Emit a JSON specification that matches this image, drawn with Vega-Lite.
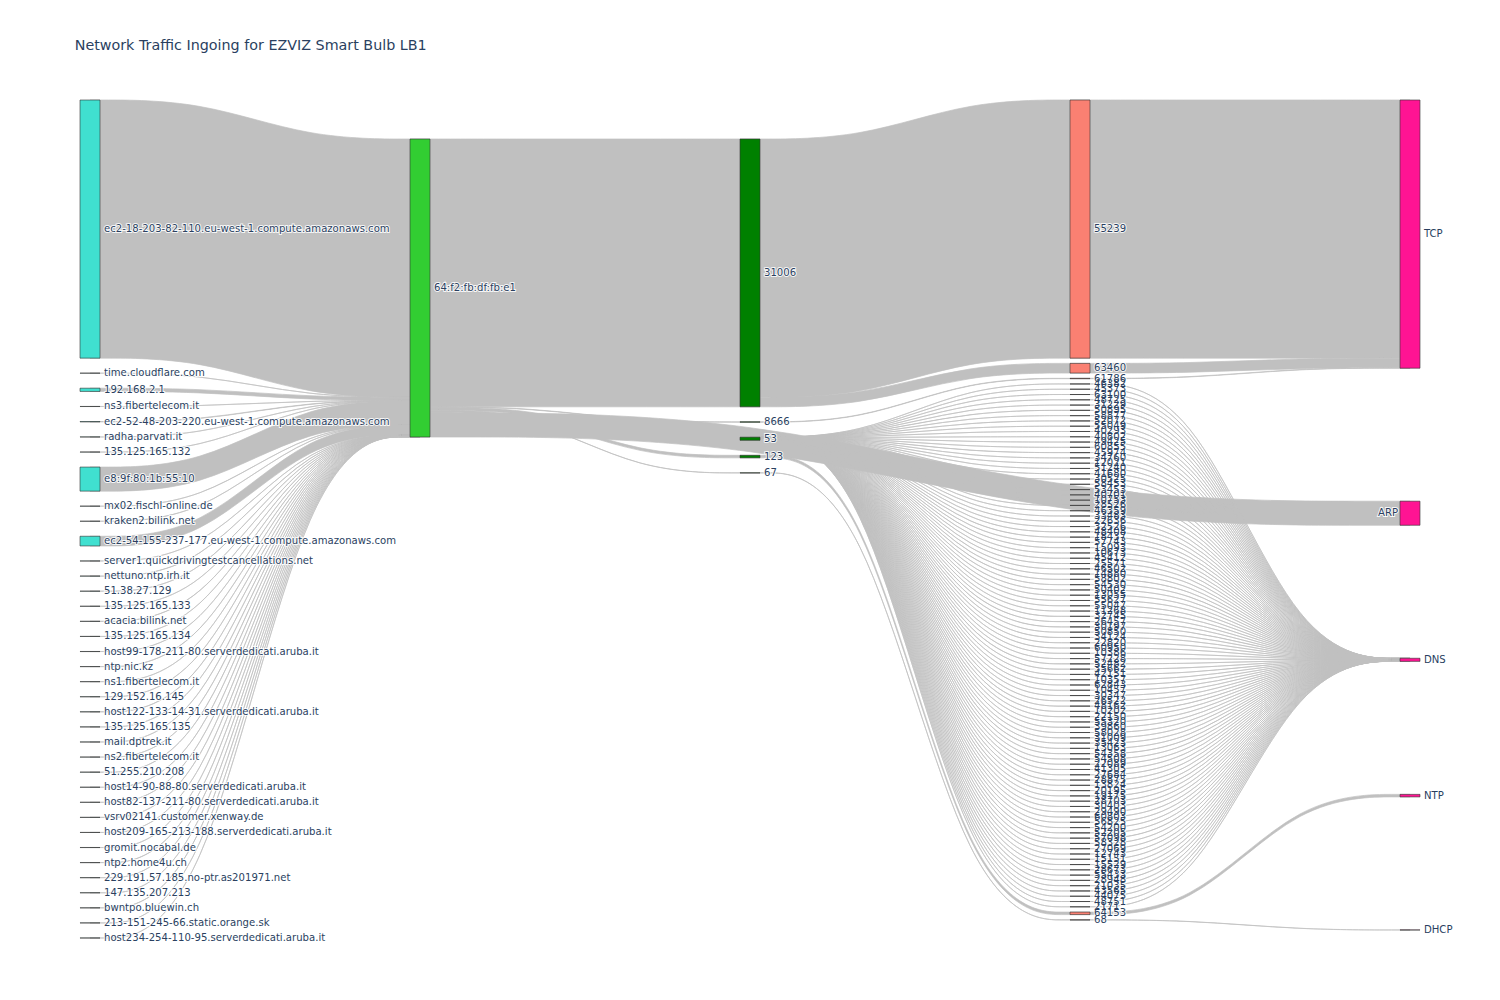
{
  "$schema": "https://vega.github.io/schema/vega-lite/v6.json",
  "width": 1320,
  "height": 840,
  "autosize": {"type": "none"},
  "padding": {"left": 90, "right": 90, "top": 100, "bottom": 60},
  "background": "white",
  "title": {"text": "Network Traffic Ingoing for EZVIZ Smart Bulb LB1", "anchor": "start", "dx": -5, "offset": 34, "baseline": "alphabetic", "font": "DejaVu Sans", "fontSize": 14.3, "fontWeight": "normal", "color": "#2a3f5f"},
  "config": {"view": {"stroke": null}},
  "datasets": {
    "nodes": [
      {"node": "ec2-18-203-82-110.eu-west-1.compute.amazonaws.com", "stage": 0, "order": 0, "packets": 8260},
      {"node": "time.cloudflare.com", "stage": 0, "order": 1, "packets": 2},
      {"node": "192.168.2.1", "stage": 0, "order": 2, "packets": 104},
      {"node": "ns3.fibertelecom.it", "stage": 0, "order": 3, "packets": 3},
      {"node": "ec2-52-48-203-220.eu-west-1.compute.amazonaws.com", "stage": 0, "order": 4, "packets": 12},
      {"node": "radha.parvati.it", "stage": 0, "order": 5, "packets": 3},
      {"node": "135.125.165.132", "stage": 0, "order": 6, "packets": 2},
      {"node": "e8:9f:80:1b:55:10", "stage": 0, "order": 7, "packets": 770},
      {"node": "mx02.fischl-online.de", "stage": 0, "order": 8, "packets": 2},
      {"node": "kraken2.bilink.net", "stage": 0, "order": 9, "packets": 2},
      {"node": "ec2-54-155-237-177.eu-west-1.compute.amazonaws.com", "stage": 0, "order": 10, "packets": 310},
      {"node": "server1.quickdrivingtestcancellations.net", "stage": 0, "order": 11, "packets": 3},
      {"node": "nettuno.ntp.irh.it", "stage": 0, "order": 12, "packets": 3},
      {"node": "51.38.27.129", "stage": 0, "order": 13, "packets": 3},
      {"node": "135.125.165.133", "stage": 0, "order": 14, "packets": 2},
      {"node": "acacia.bilink.net", "stage": 0, "order": 15, "packets": 3},
      {"node": "135.125.165.134", "stage": 0, "order": 16, "packets": 3},
      {"node": "host99-178-211-80.serverdedicati.aruba.it", "stage": 0, "order": 17, "packets": 3},
      {"node": "ntp.nic.kz", "stage": 0, "order": 18, "packets": 2},
      {"node": "ns1.fibertelecom.it", "stage": 0, "order": 19, "packets": 2},
      {"node": "129.152.16.145", "stage": 0, "order": 20, "packets": 3},
      {"node": "host122-133-14-31.serverdedicati.aruba.it", "stage": 0, "order": 21, "packets": 3},
      {"node": "135.125.165.135", "stage": 0, "order": 22, "packets": 2},
      {"node": "mail.dptrek.it", "stage": 0, "order": 23, "packets": 3},
      {"node": "ns2.fibertelecom.it", "stage": 0, "order": 24, "packets": 2},
      {"node": "51.255.210.208", "stage": 0, "order": 25, "packets": 3},
      {"node": "host14-90-88-80.serverdedicati.aruba.it", "stage": 0, "order": 26, "packets": 2},
      {"node": "host82-137-211-80.serverdedicati.aruba.it", "stage": 0, "order": 27, "packets": 2},
      {"node": "vsrv02141.customer.xenway.de", "stage": 0, "order": 28, "packets": 3},
      {"node": "host209-165-213-188.serverdedicati.aruba.it", "stage": 0, "order": 29, "packets": 2},
      {"node": "gromit.nocabal.de", "stage": 0, "order": 30, "packets": 3},
      {"node": "ntp2.home4u.ch", "stage": 0, "order": 31, "packets": 2},
      {"node": "229.191.57.185.no-ptr.as201971.net", "stage": 0, "order": 32, "packets": 3},
      {"node": "147.135.207.213", "stage": 0, "order": 33, "packets": 3},
      {"node": "bwntpo.bluewin.ch", "stage": 0, "order": 34, "packets": 2},
      {"node": "213-151-245-66.static.orange.sk", "stage": 0, "order": 35, "packets": 2},
      {"node": "host234-254-110-95.serverdedicati.aruba.it", "stage": 0, "order": 36, "packets": 3},
      {"node": "64:f2:fb:df:fb:e1", "stage": 1, "order": 0, "packets": 9537},
      {"node": "31006", "stage": 2, "order": 0, "packets": 8570},
      {"node": "8666", "stage": 2, "order": 1, "packets": 12},
      {"node": "53", "stage": 2, "order": 2, "packets": 100},
      {"node": "123", "stage": 2, "order": 3, "packets": 81},
      {"node": "67", "stage": 2, "order": 4, "packets": 4},
      {"node": "55239", "stage": 3, "order": 0, "packets": 8260},
      {"node": "63460", "stage": 3, "order": 1, "packets": 310},
      {"node": "61786", "stage": 3, "order": 2, "packets": 12},
      {"node": "46382", "stage": 3, "order": 3, "packets": 1},
      {"node": "45373", "stage": 3, "order": 4, "packets": 1},
      {"node": "63100", "stage": 3, "order": 5, "packets": 1},
      {"node": "48725", "stage": 3, "order": 6, "packets": 1},
      {"node": "31229", "stage": 3, "order": 7, "packets": 1},
      {"node": "50895", "stage": 3, "order": 8, "packets": 1},
      {"node": "58877", "stage": 3, "order": 9, "packets": 1},
      {"node": "52072", "stage": 3, "order": 10, "packets": 1},
      {"node": "55049", "stage": 3, "order": 11, "packets": 1},
      {"node": "40293", "stage": 3, "order": 12, "packets": 1},
      {"node": "40802", "stage": 3, "order": 13, "packets": 1},
      {"node": "49425", "stage": 3, "order": 14, "packets": 1},
      {"node": "60855", "stage": 3, "order": 15, "packets": 1},
      {"node": "45974", "stage": 3, "order": 16, "packets": 1},
      {"node": "34760", "stage": 3, "order": 17, "packets": 1},
      {"node": "12021", "stage": 3, "order": 18, "packets": 1},
      {"node": "51240", "stage": 3, "order": 19, "packets": 1},
      {"node": "41680", "stage": 3, "order": 20, "packets": 1},
      {"node": "30525", "stage": 3, "order": 21, "packets": 1},
      {"node": "58453", "stage": 3, "order": 22, "packets": 1},
      {"node": "53453", "stage": 3, "order": 23, "packets": 1},
      {"node": "40701", "stage": 3, "order": 24, "packets": 1},
      {"node": "10753", "stage": 3, "order": 25, "packets": 1},
      {"node": "28526", "stage": 3, "order": 26, "packets": 1},
      {"node": "46359", "stage": 3, "order": 27, "packets": 1},
      {"node": "33483", "stage": 3, "order": 28, "packets": 1},
      {"node": "22636", "stage": 3, "order": 29, "packets": 1},
      {"node": "32526", "stage": 3, "order": 30, "packets": 1},
      {"node": "48408", "stage": 3, "order": 31, "packets": 1},
      {"node": "18437", "stage": 3, "order": 32, "packets": 1},
      {"node": "57743", "stage": 3, "order": 33, "packets": 1},
      {"node": "15093", "stage": 3, "order": 34, "packets": 1},
      {"node": "10673", "stage": 3, "order": 35, "packets": 1},
      {"node": "45412", "stage": 3, "order": 36, "packets": 1},
      {"node": "25571", "stage": 3, "order": 37, "packets": 1},
      {"node": "46502", "stage": 3, "order": 38, "packets": 1},
      {"node": "14880", "stage": 3, "order": 39, "packets": 1},
      {"node": "58802", "stage": 3, "order": 40, "packets": 1},
      {"node": "54530", "stage": 3, "order": 41, "packets": 1},
      {"node": "50402", "stage": 3, "order": 42, "packets": 1},
      {"node": "13055", "stage": 3, "order": 43, "packets": 1},
      {"node": "55627", "stage": 3, "order": 44, "packets": 1},
      {"node": "55047", "stage": 3, "order": 45, "packets": 1},
      {"node": "11268", "stage": 3, "order": 46, "packets": 1},
      {"node": "32745", "stage": 3, "order": 47, "packets": 1},
      {"node": "26457", "stage": 3, "order": 48, "packets": 1},
      {"node": "30197", "stage": 3, "order": 49, "packets": 1},
      {"node": "50850", "stage": 3, "order": 50, "packets": 1},
      {"node": "34124", "stage": 3, "order": 51, "packets": 1},
      {"node": "22820", "stage": 3, "order": 52, "packets": 1},
      {"node": "60950", "stage": 3, "order": 53, "packets": 1},
      {"node": "10386", "stage": 3, "order": 54, "packets": 1},
      {"node": "57228", "stage": 3, "order": 55, "packets": 1},
      {"node": "52482", "stage": 3, "order": 56, "packets": 1},
      {"node": "35662", "stage": 3, "order": 57, "packets": 1},
      {"node": "42151", "stage": 3, "order": 58, "packets": 1},
      {"node": "10357", "stage": 3, "order": 59, "packets": 1},
      {"node": "62843", "stage": 3, "order": 60, "packets": 1},
      {"node": "10457", "stage": 3, "order": 61, "packets": 1},
      {"node": "30347", "stage": 3, "order": 62, "packets": 1},
      {"node": "26522", "stage": 3, "order": 63, "packets": 1},
      {"node": "48162", "stage": 3, "order": 64, "packets": 1},
      {"node": "10202", "stage": 3, "order": 65, "packets": 1},
      {"node": "22150", "stage": 3, "order": 66, "packets": 1},
      {"node": "55320", "stage": 3, "order": 67, "packets": 1},
      {"node": "39860", "stage": 3, "order": 68, "packets": 1},
      {"node": "58028", "stage": 3, "order": 69, "packets": 1},
      {"node": "31009", "stage": 3, "order": 70, "packets": 1},
      {"node": "35423", "stage": 3, "order": 71, "packets": 1},
      {"node": "13063", "stage": 3, "order": 72, "packets": 1},
      {"node": "54358", "stage": 3, "order": 73, "packets": 1},
      {"node": "54508", "stage": 3, "order": 74, "packets": 1},
      {"node": "22089", "stage": 3, "order": 75, "packets": 1},
      {"node": "41305", "stage": 3, "order": 76, "packets": 1},
      {"node": "27684", "stage": 3, "order": 77, "packets": 1},
      {"node": "28875", "stage": 3, "order": 78, "packets": 1},
      {"node": "13824", "stage": 3, "order": 79, "packets": 1},
      {"node": "20195", "stage": 3, "order": 80, "packets": 1},
      {"node": "19175", "stage": 3, "order": 81, "packets": 1},
      {"node": "28703", "stage": 3, "order": 82, "packets": 1},
      {"node": "30403", "stage": 3, "order": 83, "packets": 1},
      {"node": "29490", "stage": 3, "order": 84, "packets": 1},
      {"node": "60803", "stage": 3, "order": 85, "packets": 1},
      {"node": "56825", "stage": 3, "order": 86, "packets": 1},
      {"node": "54200", "stage": 3, "order": 87, "packets": 1},
      {"node": "52205", "stage": 3, "order": 88, "packets": 1},
      {"node": "57098", "stage": 3, "order": 89, "packets": 1},
      {"node": "58328", "stage": 3, "order": 90, "packets": 1},
      {"node": "27069", "stage": 3, "order": 91, "packets": 1},
      {"node": "12743", "stage": 3, "order": 92, "packets": 1},
      {"node": "15151", "stage": 3, "order": 93, "packets": 1},
      {"node": "15529", "stage": 3, "order": 94, "packets": 1},
      {"node": "28673", "stage": 3, "order": 95, "packets": 1},
      {"node": "55433", "stage": 3, "order": 96, "packets": 1},
      {"node": "28948", "stage": 3, "order": 97, "packets": 1},
      {"node": "21035", "stage": 3, "order": 98, "packets": 1},
      {"node": "43565", "stage": 3, "order": 99, "packets": 1},
      {"node": "44075", "stage": 3, "order": 100, "packets": 1},
      {"node": "48751", "stage": 3, "order": 101, "packets": 1},
      {"node": "2171", "stage": 3, "order": 102, "packets": 1},
      {"node": "64153", "stage": 3, "order": 103, "packets": 81},
      {"node": "68", "stage": 3, "order": 104, "packets": 4},
      {"node": "TCP", "stage": 4, "order": 0, "packets": 8582},
      {"node": "ARP", "stage": 4, "order": 1, "packets": 770},
      {"node": "DNS", "stage": 4, "order": 2, "packets": 100},
      {"node": "NTP", "stage": 4, "order": 3, "packets": 81},
      {"node": "DHCP", "stage": 4, "order": 4, "packets": 4}
    ],
    "links": [
      {"source": "ec2-18-203-82-110.eu-west-1.compute.amazonaws.com", "target": "64:f2:fb:df:fb:e1", "packets": 8260},
      {"source": "time.cloudflare.com", "target": "64:f2:fb:df:fb:e1", "packets": 2},
      {"source": "192.168.2.1", "target": "64:f2:fb:df:fb:e1", "packets": 104},
      {"source": "ns3.fibertelecom.it", "target": "64:f2:fb:df:fb:e1", "packets": 3},
      {"source": "ec2-52-48-203-220.eu-west-1.compute.amazonaws.com", "target": "64:f2:fb:df:fb:e1", "packets": 12},
      {"source": "radha.parvati.it", "target": "64:f2:fb:df:fb:e1", "packets": 3},
      {"source": "135.125.165.132", "target": "64:f2:fb:df:fb:e1", "packets": 2},
      {"source": "e8:9f:80:1b:55:10", "target": "64:f2:fb:df:fb:e1", "packets": 770},
      {"source": "mx02.fischl-online.de", "target": "64:f2:fb:df:fb:e1", "packets": 2},
      {"source": "kraken2.bilink.net", "target": "64:f2:fb:df:fb:e1", "packets": 2},
      {"source": "ec2-54-155-237-177.eu-west-1.compute.amazonaws.com", "target": "64:f2:fb:df:fb:e1", "packets": 310},
      {"source": "server1.quickdrivingtestcancellations.net", "target": "64:f2:fb:df:fb:e1", "packets": 3},
      {"source": "nettuno.ntp.irh.it", "target": "64:f2:fb:df:fb:e1", "packets": 3},
      {"source": "51.38.27.129", "target": "64:f2:fb:df:fb:e1", "packets": 3},
      {"source": "135.125.165.133", "target": "64:f2:fb:df:fb:e1", "packets": 2},
      {"source": "acacia.bilink.net", "target": "64:f2:fb:df:fb:e1", "packets": 3},
      {"source": "135.125.165.134", "target": "64:f2:fb:df:fb:e1", "packets": 3},
      {"source": "host99-178-211-80.serverdedicati.aruba.it", "target": "64:f2:fb:df:fb:e1", "packets": 3},
      {"source": "ntp.nic.kz", "target": "64:f2:fb:df:fb:e1", "packets": 2},
      {"source": "ns1.fibertelecom.it", "target": "64:f2:fb:df:fb:e1", "packets": 2},
      {"source": "129.152.16.145", "target": "64:f2:fb:df:fb:e1", "packets": 3},
      {"source": "host122-133-14-31.serverdedicati.aruba.it", "target": "64:f2:fb:df:fb:e1", "packets": 3},
      {"source": "135.125.165.135", "target": "64:f2:fb:df:fb:e1", "packets": 2},
      {"source": "mail.dptrek.it", "target": "64:f2:fb:df:fb:e1", "packets": 3},
      {"source": "ns2.fibertelecom.it", "target": "64:f2:fb:df:fb:e1", "packets": 2},
      {"source": "51.255.210.208", "target": "64:f2:fb:df:fb:e1", "packets": 3},
      {"source": "host14-90-88-80.serverdedicati.aruba.it", "target": "64:f2:fb:df:fb:e1", "packets": 2},
      {"source": "host82-137-211-80.serverdedicati.aruba.it", "target": "64:f2:fb:df:fb:e1", "packets": 2},
      {"source": "vsrv02141.customer.xenway.de", "target": "64:f2:fb:df:fb:e1", "packets": 3},
      {"source": "host209-165-213-188.serverdedicati.aruba.it", "target": "64:f2:fb:df:fb:e1", "packets": 2},
      {"source": "gromit.nocabal.de", "target": "64:f2:fb:df:fb:e1", "packets": 3},
      {"source": "ntp2.home4u.ch", "target": "64:f2:fb:df:fb:e1", "packets": 2},
      {"source": "229.191.57.185.no-ptr.as201971.net", "target": "64:f2:fb:df:fb:e1", "packets": 3},
      {"source": "147.135.207.213", "target": "64:f2:fb:df:fb:e1", "packets": 3},
      {"source": "bwntpo.bluewin.ch", "target": "64:f2:fb:df:fb:e1", "packets": 2},
      {"source": "213-151-245-66.static.orange.sk", "target": "64:f2:fb:df:fb:e1", "packets": 2},
      {"source": "host234-254-110-95.serverdedicati.aruba.it", "target": "64:f2:fb:df:fb:e1", "packets": 3},
      {"source": "64:f2:fb:df:fb:e1", "target": "31006", "packets": 8570},
      {"source": "64:f2:fb:df:fb:e1", "target": "8666", "packets": 12},
      {"source": "64:f2:fb:df:fb:e1", "target": "53", "packets": 100},
      {"source": "64:f2:fb:df:fb:e1", "target": "123", "packets": 81},
      {"source": "64:f2:fb:df:fb:e1", "target": "67", "packets": 4},
      {"source": "64:f2:fb:df:fb:e1", "target": "ARP", "packets": 770},
      {"source": "31006", "target": "55239", "packets": 8260},
      {"source": "31006", "target": "63460", "packets": 310},
      {"source": "8666", "target": "61786", "packets": 12},
      {"source": "53", "target": "46382", "packets": 1},
      {"source": "53", "target": "45373", "packets": 1},
      {"source": "53", "target": "63100", "packets": 1},
      {"source": "53", "target": "48725", "packets": 1},
      {"source": "53", "target": "31229", "packets": 1},
      {"source": "53", "target": "50895", "packets": 1},
      {"source": "53", "target": "58877", "packets": 1},
      {"source": "53", "target": "52072", "packets": 1},
      {"source": "53", "target": "55049", "packets": 1},
      {"source": "53", "target": "40293", "packets": 1},
      {"source": "53", "target": "40802", "packets": 1},
      {"source": "53", "target": "49425", "packets": 1},
      {"source": "53", "target": "60855", "packets": 1},
      {"source": "53", "target": "45974", "packets": 1},
      {"source": "53", "target": "34760", "packets": 1},
      {"source": "53", "target": "12021", "packets": 1},
      {"source": "53", "target": "51240", "packets": 1},
      {"source": "53", "target": "41680", "packets": 1},
      {"source": "53", "target": "30525", "packets": 1},
      {"source": "53", "target": "58453", "packets": 1},
      {"source": "53", "target": "53453", "packets": 1},
      {"source": "53", "target": "40701", "packets": 1},
      {"source": "53", "target": "10753", "packets": 1},
      {"source": "53", "target": "28526", "packets": 1},
      {"source": "53", "target": "46359", "packets": 1},
      {"source": "53", "target": "33483", "packets": 1},
      {"source": "53", "target": "22636", "packets": 1},
      {"source": "53", "target": "32526", "packets": 1},
      {"source": "53", "target": "48408", "packets": 1},
      {"source": "53", "target": "18437", "packets": 1},
      {"source": "53", "target": "57743", "packets": 1},
      {"source": "53", "target": "15093", "packets": 1},
      {"source": "53", "target": "10673", "packets": 1},
      {"source": "53", "target": "45412", "packets": 1},
      {"source": "53", "target": "25571", "packets": 1},
      {"source": "53", "target": "46502", "packets": 1},
      {"source": "53", "target": "14880", "packets": 1},
      {"source": "53", "target": "58802", "packets": 1},
      {"source": "53", "target": "54530", "packets": 1},
      {"source": "53", "target": "50402", "packets": 1},
      {"source": "53", "target": "13055", "packets": 1},
      {"source": "53", "target": "55627", "packets": 1},
      {"source": "53", "target": "55047", "packets": 1},
      {"source": "53", "target": "11268", "packets": 1},
      {"source": "53", "target": "32745", "packets": 1},
      {"source": "53", "target": "26457", "packets": 1},
      {"source": "53", "target": "30197", "packets": 1},
      {"source": "53", "target": "50850", "packets": 1},
      {"source": "53", "target": "34124", "packets": 1},
      {"source": "53", "target": "22820", "packets": 1},
      {"source": "53", "target": "60950", "packets": 1},
      {"source": "53", "target": "10386", "packets": 1},
      {"source": "53", "target": "57228", "packets": 1},
      {"source": "53", "target": "52482", "packets": 1},
      {"source": "53", "target": "35662", "packets": 1},
      {"source": "53", "target": "42151", "packets": 1},
      {"source": "53", "target": "10357", "packets": 1},
      {"source": "53", "target": "62843", "packets": 1},
      {"source": "53", "target": "10457", "packets": 1},
      {"source": "53", "target": "30347", "packets": 1},
      {"source": "53", "target": "26522", "packets": 1},
      {"source": "53", "target": "48162", "packets": 1},
      {"source": "53", "target": "10202", "packets": 1},
      {"source": "53", "target": "22150", "packets": 1},
      {"source": "53", "target": "55320", "packets": 1},
      {"source": "53", "target": "39860", "packets": 1},
      {"source": "53", "target": "58028", "packets": 1},
      {"source": "53", "target": "31009", "packets": 1},
      {"source": "53", "target": "35423", "packets": 1},
      {"source": "53", "target": "13063", "packets": 1},
      {"source": "53", "target": "54358", "packets": 1},
      {"source": "53", "target": "54508", "packets": 1},
      {"source": "53", "target": "22089", "packets": 1},
      {"source": "53", "target": "41305", "packets": 1},
      {"source": "53", "target": "27684", "packets": 1},
      {"source": "53", "target": "28875", "packets": 1},
      {"source": "53", "target": "13824", "packets": 1},
      {"source": "53", "target": "20195", "packets": 1},
      {"source": "53", "target": "19175", "packets": 1},
      {"source": "53", "target": "28703", "packets": 1},
      {"source": "53", "target": "30403", "packets": 1},
      {"source": "53", "target": "29490", "packets": 1},
      {"source": "53", "target": "60803", "packets": 1},
      {"source": "53", "target": "56825", "packets": 1},
      {"source": "53", "target": "54200", "packets": 1},
      {"source": "53", "target": "52205", "packets": 1},
      {"source": "53", "target": "57098", "packets": 1},
      {"source": "53", "target": "58328", "packets": 1},
      {"source": "53", "target": "27069", "packets": 1},
      {"source": "53", "target": "12743", "packets": 1},
      {"source": "53", "target": "15151", "packets": 1},
      {"source": "53", "target": "15529", "packets": 1},
      {"source": "53", "target": "28673", "packets": 1},
      {"source": "53", "target": "55433", "packets": 1},
      {"source": "53", "target": "28948", "packets": 1},
      {"source": "53", "target": "21035", "packets": 1},
      {"source": "53", "target": "43565", "packets": 1},
      {"source": "53", "target": "44075", "packets": 1},
      {"source": "53", "target": "48751", "packets": 1},
      {"source": "53", "target": "2171", "packets": 1},
      {"source": "123", "target": "64153", "packets": 81},
      {"source": "67", "target": "68", "packets": 4},
      {"source": "55239", "target": "TCP", "packets": 8260},
      {"source": "63460", "target": "TCP", "packets": 310},
      {"source": "61786", "target": "TCP", "packets": 12},
      {"source": "46382", "target": "DNS", "packets": 1},
      {"source": "45373", "target": "DNS", "packets": 1},
      {"source": "63100", "target": "DNS", "packets": 1},
      {"source": "48725", "target": "DNS", "packets": 1},
      {"source": "31229", "target": "DNS", "packets": 1},
      {"source": "50895", "target": "DNS", "packets": 1},
      {"source": "58877", "target": "DNS", "packets": 1},
      {"source": "52072", "target": "DNS", "packets": 1},
      {"source": "55049", "target": "DNS", "packets": 1},
      {"source": "40293", "target": "DNS", "packets": 1},
      {"source": "40802", "target": "DNS", "packets": 1},
      {"source": "49425", "target": "DNS", "packets": 1},
      {"source": "60855", "target": "DNS", "packets": 1},
      {"source": "45974", "target": "DNS", "packets": 1},
      {"source": "34760", "target": "DNS", "packets": 1},
      {"source": "12021", "target": "DNS", "packets": 1},
      {"source": "51240", "target": "DNS", "packets": 1},
      {"source": "41680", "target": "DNS", "packets": 1},
      {"source": "30525", "target": "DNS", "packets": 1},
      {"source": "58453", "target": "DNS", "packets": 1},
      {"source": "53453", "target": "DNS", "packets": 1},
      {"source": "40701", "target": "DNS", "packets": 1},
      {"source": "10753", "target": "DNS", "packets": 1},
      {"source": "28526", "target": "DNS", "packets": 1},
      {"source": "46359", "target": "DNS", "packets": 1},
      {"source": "33483", "target": "DNS", "packets": 1},
      {"source": "22636", "target": "DNS", "packets": 1},
      {"source": "32526", "target": "DNS", "packets": 1},
      {"source": "48408", "target": "DNS", "packets": 1},
      {"source": "18437", "target": "DNS", "packets": 1},
      {"source": "57743", "target": "DNS", "packets": 1},
      {"source": "15093", "target": "DNS", "packets": 1},
      {"source": "10673", "target": "DNS", "packets": 1},
      {"source": "45412", "target": "DNS", "packets": 1},
      {"source": "25571", "target": "DNS", "packets": 1},
      {"source": "46502", "target": "DNS", "packets": 1},
      {"source": "14880", "target": "DNS", "packets": 1},
      {"source": "58802", "target": "DNS", "packets": 1},
      {"source": "54530", "target": "DNS", "packets": 1},
      {"source": "50402", "target": "DNS", "packets": 1},
      {"source": "13055", "target": "DNS", "packets": 1},
      {"source": "55627", "target": "DNS", "packets": 1},
      {"source": "55047", "target": "DNS", "packets": 1},
      {"source": "11268", "target": "DNS", "packets": 1},
      {"source": "32745", "target": "DNS", "packets": 1},
      {"source": "26457", "target": "DNS", "packets": 1},
      {"source": "30197", "target": "DNS", "packets": 1},
      {"source": "50850", "target": "DNS", "packets": 1},
      {"source": "34124", "target": "DNS", "packets": 1},
      {"source": "22820", "target": "DNS", "packets": 1},
      {"source": "60950", "target": "DNS", "packets": 1},
      {"source": "10386", "target": "DNS", "packets": 1},
      {"source": "57228", "target": "DNS", "packets": 1},
      {"source": "52482", "target": "DNS", "packets": 1},
      {"source": "35662", "target": "DNS", "packets": 1},
      {"source": "42151", "target": "DNS", "packets": 1},
      {"source": "10357", "target": "DNS", "packets": 1},
      {"source": "62843", "target": "DNS", "packets": 1},
      {"source": "10457", "target": "DNS", "packets": 1},
      {"source": "30347", "target": "DNS", "packets": 1},
      {"source": "26522", "target": "DNS", "packets": 1},
      {"source": "48162", "target": "DNS", "packets": 1},
      {"source": "10202", "target": "DNS", "packets": 1},
      {"source": "22150", "target": "DNS", "packets": 1},
      {"source": "55320", "target": "DNS", "packets": 1},
      {"source": "39860", "target": "DNS", "packets": 1},
      {"source": "58028", "target": "DNS", "packets": 1},
      {"source": "31009", "target": "DNS", "packets": 1},
      {"source": "35423", "target": "DNS", "packets": 1},
      {"source": "13063", "target": "DNS", "packets": 1},
      {"source": "54358", "target": "DNS", "packets": 1},
      {"source": "54508", "target": "DNS", "packets": 1},
      {"source": "22089", "target": "DNS", "packets": 1},
      {"source": "41305", "target": "DNS", "packets": 1},
      {"source": "27684", "target": "DNS", "packets": 1},
      {"source": "28875", "target": "DNS", "packets": 1},
      {"source": "13824", "target": "DNS", "packets": 1},
      {"source": "20195", "target": "DNS", "packets": 1},
      {"source": "19175", "target": "DNS", "packets": 1},
      {"source": "28703", "target": "DNS", "packets": 1},
      {"source": "30403", "target": "DNS", "packets": 1},
      {"source": "29490", "target": "DNS", "packets": 1},
      {"source": "60803", "target": "DNS", "packets": 1},
      {"source": "56825", "target": "DNS", "packets": 1},
      {"source": "54200", "target": "DNS", "packets": 1},
      {"source": "52205", "target": "DNS", "packets": 1},
      {"source": "57098", "target": "DNS", "packets": 1},
      {"source": "58328", "target": "DNS", "packets": 1},
      {"source": "27069", "target": "DNS", "packets": 1},
      {"source": "12743", "target": "DNS", "packets": 1},
      {"source": "15151", "target": "DNS", "packets": 1},
      {"source": "15529", "target": "DNS", "packets": 1},
      {"source": "28673", "target": "DNS", "packets": 1},
      {"source": "55433", "target": "DNS", "packets": 1},
      {"source": "28948", "target": "DNS", "packets": 1},
      {"source": "21035", "target": "DNS", "packets": 1},
      {"source": "43565", "target": "DNS", "packets": 1},
      {"source": "44075", "target": "DNS", "packets": 1},
      {"source": "48751", "target": "DNS", "packets": 1},
      {"source": "2171", "target": "DNS", "packets": 1},
      {"source": "64153", "target": "NTP", "packets": 81},
      {"source": "68", "target": "DHCP", "packets": 4}
    ]
  },
  "layer": [
    {
      "data": {"name": "links"},
      "transform": [
        {"lookup": "source", "from": {"data": {"name": "nodes"}, "key": "node", "fields": ["stage", "order"]}, "as": ["sStage", "sOrder"]},
        {"lookup": "target", "from": {"data": {"name": "nodes"}, "key": "node", "fields": ["stage", "order"]}, "as": ["tStage", "tOrder"]},
        {"window": [{"op": "sum", "field": "packets", "as": "sCum"}], "groupby": ["sStage"], "sort": [{"field": "sOrder", "order": "ascending"}, {"field": "tStage", "order": "ascending"}, {"field": "tOrder", "order": "ascending"}], "frame": [null, 0], "ignorePeers": true},
        {"window": [{"op": "sum", "field": "packets", "as": "tCum"}], "groupby": ["tStage"], "sort": [{"field": "tOrder", "order": "ascending"}, {"field": "sStage", "order": "ascending"}, {"field": "sOrder", "order": "ascending"}], "frame": [null, 0], "ignorePeers": true},
        {"calculate": "datum.sCum - datum.packets + datum.sOrder * [480, 0, 480, 168, 4256][datum.sStage] + [0, 1248, 1248, 0, 0][datum.sStage]", "as": "s0"},
        {"calculate": "datum.tCum - datum.packets + datum.tOrder * [480, 0, 480, 168, 4256][datum.tStage] + [0, 1248, 1248, 0, 0][datum.tStage]", "as": "t0"},
        {"calculate": "datum.sStage", "as": "p0"},
        {"calculate": "datum.sStage + (datum.tStage - datum.sStage) / 3", "as": "p1"},
        {"calculate": "datum.sStage + 2 * (datum.tStage - datum.sStage) / 3", "as": "p2"},
        {"calculate": "datum.tStage", "as": "p3"},
        {"fold": ["p0", "p1", "p2", "p3"], "as": ["pt", "px"]},
        {"calculate": "(datum.pt == 'p0' || datum.pt == 'p1') ? datum.s0 : datum.t0", "as": "yTop"},
        {"calculate": "datum.yTop + datum.packets", "as": "yBot"}
      ],
      "mark": {"type": "area", "interpolate": "basis", "fill": "#c0c0c0", "fillOpacity": 1, "stroke": "#c0c0c0", "strokeWidth": 0.7},
      "encoding": {
        "x": {"field": "px", "type": "quantitative", "scale": {"domain": [0, 4], "nice": false, "zero": false, "padding": 0}, "axis": null},
        "y": {"field": "yTop", "type": "quantitative", "scale": {"domain": [0, 26880], "reverse": true, "nice": false, "zero": false}, "axis": null, "stack": null},
        "y2": {"field": "yBot"},
        "detail": [{"field": "source", "type": "nominal"}, {"field": "target", "type": "nominal"}]
      }
    },
    {
      "data": {"name": "nodes"},
      "transform": [
        {"window": [{"op": "sum", "field": "packets", "as": "cum"}], "groupby": ["stage"], "sort": [{"field": "order", "order": "ascending"}], "frame": [null, 0], "ignorePeers": true},
        {"calculate": "datum.cum - datum.packets + datum.order * [480, 0, 480, 168, 4256][datum.stage] + [0, 1248, 1248, 0, 0][datum.stage]", "as": "top"},
        {"calculate": "datum.top + datum.packets", "as": "bottom"},
        {"calculate": "datum.top + datum.packets / 2", "as": "mid"}
      ],
      "layer": [
        {
          "mark": {"type": "bar", "width": 20, "stroke": "#333333", "strokeWidth": 0.6, "orient": "vertical"},
          "encoding": {
            "x": {"field": "stage", "type": "quantitative", "scale": {"domain": [0, 4], "nice": false, "zero": false, "padding": 0}, "axis": null},
            "y": {"field": "top", "type": "quantitative", "scale": {"domain": [0, 26880], "reverse": true, "nice": false, "zero": false}, "axis": null},
            "y2": {"field": "bottom"},
            "color": {"field": "stage", "type": "nominal", "scale": {"domain": [0, 1, 2, 3, 4], "range": ["#40E0D0", "#32CD32", "#008000", "#FA8072", "#FF1493"]}, "legend": null}
          }
        },
        {
          "transform": [{"filter": "datum.node != 'ARP'"}],
          "mark": {"type": "text", "align": "left", "baseline": "middle", "dx": 14, "font": "DejaVu Sans", "fontSize": 10.1, "fill": "white", "stroke": "white", "strokeWidth": 2, "strokeOpacity": 0.85},
          "encoding": {
            "x": {"field": "stage", "type": "quantitative"},
            "y": {"field": "mid", "type": "quantitative"},
            "text": {"field": "node"}
          }
        },
        {
          "transform": [{"filter": "datum.node != 'ARP'"}],
          "mark": {"type": "text", "align": "left", "baseline": "middle", "dx": 14, "font": "DejaVu Sans", "fontSize": 10.1, "fill": "#2a3f5f"},
          "encoding": {
            "x": {"field": "stage", "type": "quantitative"},
            "y": {"field": "mid", "type": "quantitative"},
            "text": {"field": "node"}
          }
        },
        {
          "transform": [{"filter": "datum.node == 'ARP'"}],
          "mark": {"type": "text", "align": "right", "baseline": "middle", "dx": -12, "font": "DejaVu Sans", "fontSize": 10.1, "fill": "white", "stroke": "white", "strokeWidth": 2, "strokeOpacity": 0.85},
          "encoding": {
            "x": {"field": "stage", "type": "quantitative"},
            "y": {"field": "mid", "type": "quantitative"},
            "text": {"field": "node"}
          }
        },
        {
          "transform": [{"filter": "datum.node == 'ARP'"}],
          "mark": {"type": "text", "align": "right", "baseline": "middle", "dx": -12, "font": "DejaVu Sans", "fontSize": 10.1, "fill": "#2a3f5f"},
          "encoding": {
            "x": {"field": "stage", "type": "quantitative"},
            "y": {"field": "mid", "type": "quantitative"},
            "text": {"field": "node"}
          }
        }
      ]
    }
  ]
}
